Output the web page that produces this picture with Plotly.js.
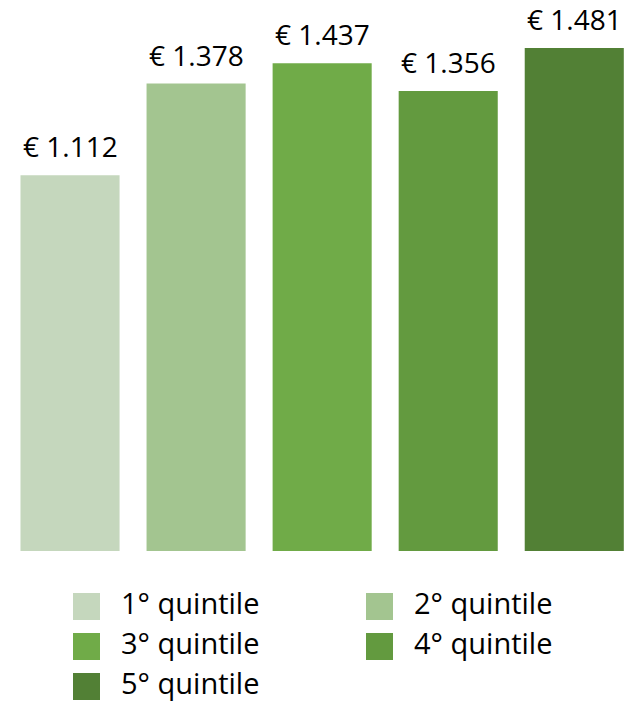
<!DOCTYPE html>
<html>
<head>
<meta charset="utf-8">
<script src="https://cdn.plot.ly/plotly-3.0.1.min.js"></script>
<style>html,body{margin:0;padding:0;background:#fff;}#chart{width:631px;height:702px;}</style>
</head>
<body>
<div id="chart"></div>
<script>
const categories = ["1° quintile", "2° quintile", "3° quintile", "4° quintile", "5° quintile"];
const values = [1112, 1378, 1437, 1356, 1481];
const colors = ["#C5D7BD", "#A3C590", "#70AB48", "#639A3F", "#528035"];

const FONT = "'Open Sans', 'Noto Sans', sans-serif";

const traces = categories.map((c, i) => ({
  type: "bar",
  name: c,
  x: [c],
  y: [values[i]],
  marker: {color: colors[i]},
  hoverinfo: "skip",
  showlegend: false
}));

const fmt = v => "€ " + v.toLocaleString("it-IT");

// value labels positioned through the axes
const annotations = categories.map((c, i) => ({
  xref: "x", yref: "y", x: c, y: values[i],
  xanchor: "center", yanchor: "bottom", yshift: 8,
  showarrow: false, text: fmt(values[i]),
  font: {family: FONT, size: 28, color: "#000"}
}));

// legend drawn as layout shapes/annotations built from the arrays
const legCols = [73, 366];
const legRows = [593, 633, 673];
const shapes = [];
categories.forEach((c, i) => {
  const col = i % 2, row = Math.floor(i / 2);
  const x0 = legCols[col], y0 = legRows[row];
  shapes.push({type: "rect", xref: "paper", yref: "paper",
    x0: (x0 - 7) / 624, x1: (x0 + 27 - 7) / 624,
    y0: (551 - y0) / 551, y1: (551 - y0 - 27) / 551,
    fillcolor: colors[i], line: {width: 0}});
  annotations.push({xref: "paper", yref: "paper",
    x: (x0 + 46 - 7) / 624, y: (551 - y0 - 9.5) / 551,
    xanchor: "left", yanchor: "middle", showarrow: false,
    text: c, font: {family: FONT, size: 29, color: "#000"}});
});

const layout = {
  width: 631, height: 702,
  margin: {l: 7, r: 0, t: 0, b: 151, pad: 0},
  paper_bgcolor: "#fff", plot_bgcolor: "#fff",
  bargap: 0.214,
  barmode: "group",
  showlegend: false,
  xaxis: {type: "category", range: [-0.5, 4.45], showticklabels: false, showgrid: false, zeroline: false, showline: false, ticks: ""},
  yaxis: {range: [23, 1620], showticklabels: false, showgrid: false, zeroline: false, showline: false, ticks: ""},
  shapes: shapes,
  annotations: annotations
};

Plotly.newPlot("chart", traces, layout, {displayModeBar: false, staticPlot: true});
</script>
</body>
</html>
